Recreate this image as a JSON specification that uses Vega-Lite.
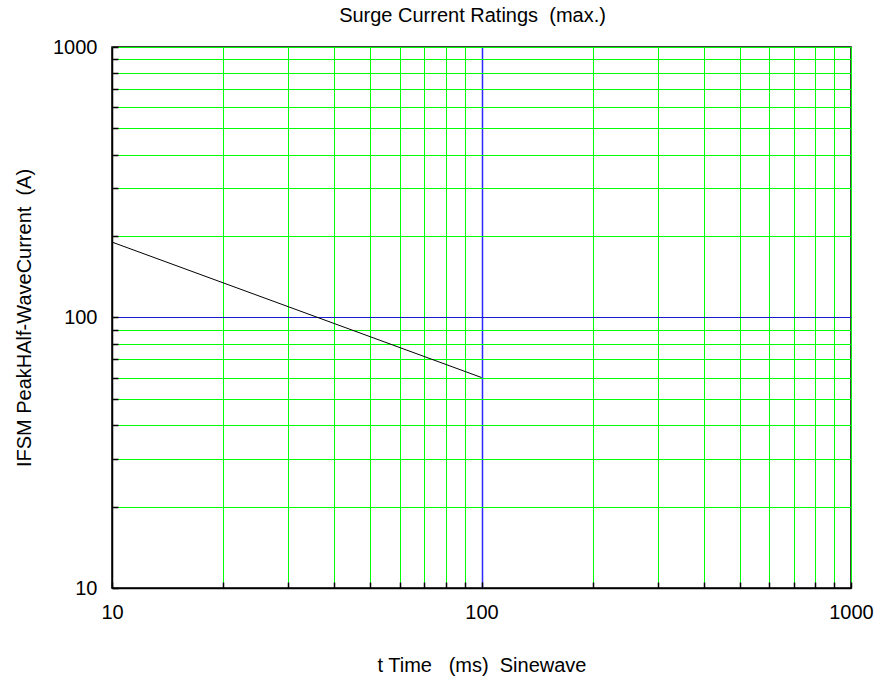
{
  "$schema": "https://vega.github.io/schema/vega-lite/v6.json",
  "width": 739,
  "height": 541,
  "autosize": {"type": "none"},
  "padding": {"left": 112, "top": 47, "right": 27, "bottom": 91},
  "background": "white",
  "title": {
    "text": "Surge Current Ratings\u00a0 (max.)",
    "font": "Liberation Sans",
    "fontSize": 20,
    "fontWeight": "normal",
    "color": "black",
    "baseline": "alphabetic",
    "frame": "group",
    "offset": -5,
    "dx": -9
  },
  "config": {
    "view": {"stroke": "black", "strokeWidth": 1.5},
    "font": "Liberation Sans"
  },
  "data": {"values": [{"t": 10, "ifsm": 190}, {"t": 100, "ifsm": 60}]},
  "mark": {"type": "line", "color": "black", "strokeWidth": 1, "clip": true},
  "encoding": {
    "x": {
      "field": "t",
      "type": "quantitative",
      "scale": {"type": "log", "domain": [10, 1000], "nice": false},
      "axis": {
        "title": "t Time\u00a0\u00a0 (ms)\u00a0 Sinewave",
        "values": [10, 20, 30, 40, 50, 60, 70, 80, 90, 100, 200, 300, 400, 500, 600, 700, 800, 900, 1000],
        "labelExpr": "datum.value == 10 || datum.value == 100 || datum.value == 1000 ? format(datum.value, 'd') : ''",
        "labelFlush": false,
        "labelOverlap": false,
        "labelFont": "Liberation Sans",
        "labelFontSize": 20,
        "labelColor": "black",
        "labelPadding": 20,
        "tickSize": -6,
        "tickColor": "black",
        "tickWidth": 1.5,
        "domainColor": "black",
        "domainWidth": 1.5,
        "grid": true,
        "gridColor": {"condition": {"test": "datum.value === 100", "value": "#2a2aff"}, "value": "#00ff00"},
        "gridWidth": {"condition": {"test": "datum.value === 100", "value": 1.5}, "value": 1},
        "gridOpacity": 1,
        "titleFont": "Liberation Sans",
        "titleFontSize": 20,
        "titleFontWeight": "normal",
        "titleColor": "black",
        "titleBaseline": "alphabetic",
        "titleY": 83
      }
    },
    "y": {
      "field": "ifsm",
      "type": "quantitative",
      "scale": {"type": "log", "domain": [10, 1000], "nice": false},
      "axis": {
        "title": "IFSM PeakHAlf-WaveCurrent\u00a0 (A)",
        "values": [10, 20, 30, 40, 50, 60, 70, 80, 90, 100, 200, 300, 400, 500, 600, 700, 800, 900, 1000],
        "labelExpr": "datum.value == 10 || datum.value == 100 || datum.value == 1000 ? format(datum.value, 'd') : ''",
        "labelFlush": false,
        "labelOverlap": false,
        "labelFont": "Liberation Sans",
        "labelFontSize": 20,
        "labelColor": "black",
        "labelPadding": 21,
        "tickSize": -6,
        "tickColor": "black",
        "tickWidth": 1.5,
        "domainColor": "black",
        "domainWidth": 1.5,
        "grid": true,
        "gridColor": {"condition": {"test": "datum.value === 100", "value": "#1a1ad0"}, "value": "#00ff00"},
        "gridOpacity": 1,
        "gridWidth": 1,
        "titleFont": "Liberation Sans",
        "titleFontSize": 20,
        "titleFontWeight": "normal",
        "titleColor": "black",
        "titleBaseline": "alphabetic",
        "titleX": -82
      }
    }
  }
}
